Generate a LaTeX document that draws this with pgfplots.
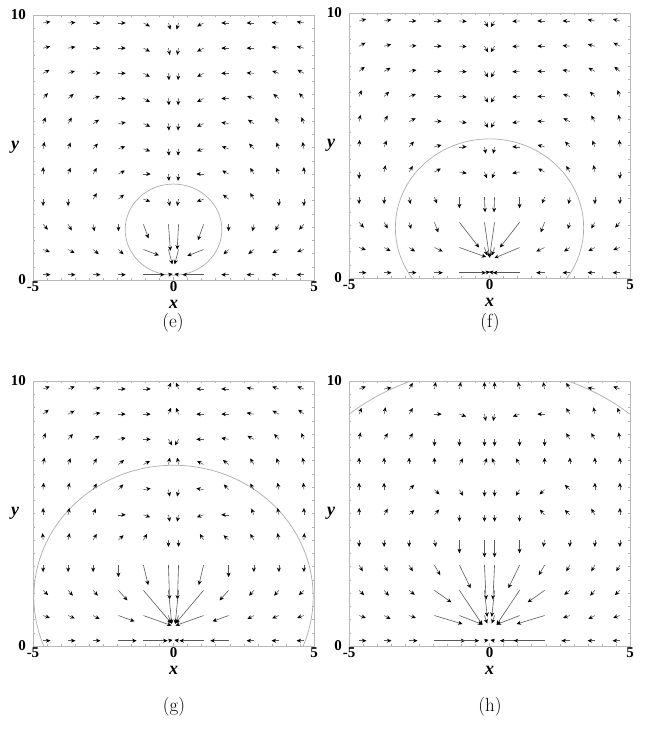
\documentclass[border=0pt]{standalone}
\usepackage{pgfplots}
\pgfplotsset{compat=1.18}
\usepackage{pgfplotstable}
\usepackage{fontspec}
\newfontfamily\tnr{Liberation Serif}
\usetikzlibrary{arrows.meta}

% velocity fields: grid point (x,y) and vector (u,v)
\pgfplotstableread{
x y u v
-4.64 9.7 0.26 0.05
-3.75 9.7 0.26 0.02
-2.86 9.7 0.26 0
-1.96 9.7 0.26 0
-1.07 9.7 0.23 -0.13
-0.18 9.7 0.07 -0.25
0.18 9.7 -0.07 -0.25
1.07 9.7 -0.23 -0.13
1.96 9.7 -0.26 0
2.86 9.7 -0.26 0
3.75 9.7 -0.26 0.02
4.64 9.7 -0.26 0.05
-4.64 8.75 0.25 0.07
-3.75 8.75 0.26 0.05
-2.86 8.75 0.26 0
-1.96 8.75 0.26 0
-1.07 8.75 0.23 -0.13
-0.18 8.75 0.05 -0.26
0.18 8.75 -0.05 -0.26
1.07 8.75 -0.23 -0.13
1.96 8.75 -0.26 0
2.86 8.75 -0.26 0
3.75 8.75 -0.26 0.05
4.64 8.75 -0.25 0.07
-4.64 7.8 0.23 0.13
-3.75 7.8 0.24 0.09
-2.86 7.8 0.26 0.02
-1.96 7.8 0.26 0
-1.07 7.8 0.23 -0.13
-0.18 7.8 0.02 -0.26
0.18 7.8 -0.02 -0.26
1.07 7.8 -0.23 -0.13
1.96 7.8 -0.26 0
2.86 7.8 -0.26 0.02
3.75 7.8 -0.24 0.09
4.64 7.8 -0.23 0.13
-4.64 6.85 0.17 0.20
-3.75 6.85 0.20 0.17
-2.86 6.85 0.24 0.09
-1.96 6.85 0.26 0
-1.07 6.85 0.23 -0.13
-0.18 6.85 0.02 -0.26
0.18 6.85 -0.02 -0.26
1.07 6.85 -0.23 -0.13
1.96 6.85 -0.26 0
2.86 6.85 -0.24 0.09
3.75 6.85 -0.20 0.17
4.64 6.85 -0.17 0.20
-4.64 5.9 0.09 0.24
-3.75 5.9 0.13 0.23
-2.86 5.9 0.21 0.15
-1.96 5.9 0.26 0.05
-1.07 5.9 0.24 -0.11
-0.18 5.9 0.02 -0.26
0.18 5.9 -0.02 -0.26
1.07 5.9 -0.24 -0.11
1.96 5.9 -0.26 0.05
2.86 5.9 -0.21 0.15
3.75 5.9 -0.13 0.23
4.64 5.9 -0.09 0.24
-4.64 4.95 0.05 0.26
-3.75 4.95 0.09 0.24
-2.86 4.95 0.17 0.20
-1.96 4.95 0.24 0.09
-1.07 4.95 0.24 -0.09
-0.18 4.95 0.02 -0.26
0.18 4.95 -0.02 -0.26
1.07 4.95 -0.24 -0.09
1.96 4.95 -0.24 0.09
2.86 4.95 -0.17 0.20
3.75 4.95 -0.09 0.24
4.64 4.95 -0.05 0.26
-4.64 4.0 0 0.26
-3.75 4.0 0.09 0.24
-2.86 4.0 0.13 0.23
-1.96 4.0 0.23 0.13
-1.07 4.0 0.26 0
-0.18 4.0 0.02 -0.26
0.18 4.0 -0.02 -0.26
1.07 4.0 -0.26 0
1.96 4.0 -0.23 0.13
2.86 4.0 -0.13 0.23
3.75 4.0 -0.09 0.24
4.64 4.0 0 0.26
-4.64 3.05 0 -0.26
-3.75 3.05 0 -0.26
-2.86 3.05 0.13 0.23
-1.96 3.05 0.20 0.17
-1.07 3.05 0.24 -0.09
-0.18 3.05 0.05 -0.26
0.18 3.05 -0.05 -0.26
1.07 3.05 -0.24 -0.09
1.96 3.05 -0.20 0.17
2.86 3.05 -0.13 0.23
3.75 3.05 0 -0.26
4.64 3.05 0 -0.26
-4.64 2.1 0.17 -0.20
-3.75 2.1 0.13 -0.23
-2.86 2.1 0.05 -0.26
-1.96 2.1 0 -0.26
-1.07 2.1 0.18 -0.53
-0.18 2.1 0.07 -1.0
0.18 2.1 -0.05 -0.95
1.07 2.1 -0.2 -0.6
1.96 2.1 0 -0.26
2.86 2.1 -0.05 -0.26
3.75 2.1 -0.13 -0.23
4.64 2.1 -0.17 -0.20
-4.64 1.15 0.24 -0.09
-3.75 1.15 0.23 -0.13
-2.86 1.15 0.20 -0.17
-1.96 1.15 0.18 -0.18
-1.07 1.15 0.55 -0.22
-0.18 1.15 0.14 -0.56
0.18 1.15 -0.14 -0.56
1.07 1.15 -0.58 -0.24
1.96 1.15 -0.18 -0.18
2.86 1.15 -0.20 -0.17
3.75 1.15 -0.23 -0.13
4.64 1.15 -0.24 -0.09
-4.64 0.2 0.26 0
-3.75 0.2 0.26 0
-2.86 0.2 0.26 0
-1.96 0.2 0.26 0
-1.07 0.2 0.75 0
-0.18 0.2 0.15 0.03
0.18 0.2 -0.15 0.03
1.07 0.2 -0.75 0
1.96 0.2 -0.26 0
2.86 0.2 -0.26 0
3.75 0.2 -0.26 0
4.64 0.2 -0.26 0
}\fieldE

\pgfplotstableread{
x y u v
-4.64 9.7 0.25 0.07
-3.75 9.7 0.26 0.05
-2.86 9.7 0.26 0
-1.96 9.7 0.26 0
-1.07 9.7 0.26 -0.02
-0.18 9.7 0.13 -0.23
0.18 9.7 -0.13 -0.23
1.07 9.7 -0.26 -0.02
1.96 9.7 -0.26 0
2.86 9.7 -0.26 0
3.75 9.7 -0.26 0.05
4.64 9.7 -0.25 0.07
-4.64 8.75 0.23 0.13
-3.75 8.75 0.25 0.07
-2.86 8.75 0.26 0.02
-1.96 8.75 0.26 0
-1.07 8.75 0.26 -0.02
-0.18 8.75 0.13 -0.23
0.18 8.75 -0.13 -0.23
1.07 8.75 -0.26 -0.02
1.96 8.75 -0.26 0
2.86 8.75 -0.26 0.02
3.75 8.75 -0.25 0.07
4.64 8.75 -0.23 0.13
-4.64 7.8 0.20 0.17
-3.75 7.8 0.23 0.13
-2.86 7.8 0.26 0.05
-1.96 7.8 0.26 0
-1.07 7.8 0.26 -0.02
-0.18 7.8 0.13 -0.23
0.18 7.8 -0.13 -0.23
1.07 7.8 -0.26 -0.02
1.96 7.8 -0.26 0
2.86 7.8 -0.26 0.05
3.75 7.8 -0.23 0.13
4.64 7.8 -0.20 0.17
-4.64 6.85 0.09 0.24
-3.75 6.85 0.18 0.18
-2.86 6.85 0.24 0.09
-1.96 6.85 0.26 0
-1.07 6.85 0.26 -0.02
-0.18 6.85 0.13 -0.23
0.18 6.85 -0.13 -0.23
1.07 6.85 -0.26 -0.02
1.96 6.85 -0.26 0
2.86 6.85 -0.24 0.09
3.75 6.85 -0.18 0.18
4.64 6.85 -0.09 0.24
-4.64 5.9 0.05 0.26
-3.75 5.9 0.13 0.23
-2.86 5.9 0.23 0.13
-1.96 5.9 0.26 0.02
-1.07 5.9 0.26 -0.05
-0.18 5.9 0.13 -0.23
0.18 5.9 -0.13 -0.23
1.07 5.9 -0.26 -0.05
1.96 5.9 -0.26 0.02
2.86 5.9 -0.23 0.13
3.75 5.9 -0.13 0.23
4.64 5.9 -0.05 0.26
-4.64 4.95 0.02 0.26
-3.75 4.95 0.09 0.24
-2.86 4.95 0.17 0.20
-1.96 4.95 0.25 0.07
-1.07 4.95 0.26 0
-0.18 4.95 0.05 -0.26
0.18 4.95 -0.05 -0.26
1.07 4.95 -0.26 0
1.96 4.95 -0.25 0.07
2.86 4.95 -0.17 0.20
3.75 4.95 -0.09 0.24
4.64 4.95 -0.02 0.26
-4.64 4.0 0 -0.26
-3.75 4.0 0.05 0.26
-2.86 4.0 0.13 0.23
-1.96 4.0 0.23 0.13
-1.07 4.0 0.26 -0.05
-0.18 4.0 0.09 -0.24
0.18 4.0 -0.09 -0.24
1.07 4.0 -0.26 -0.05
1.96 4.0 -0.23 0.13
2.86 4.0 -0.13 0.23
3.75 4.0 -0.05 0.26
4.64 4.0 0 -0.26
-4.64 3.05 0 -0.26
-3.75 3.05 0 -0.26
-2.86 3.05 0.05 -0.26
-1.96 3.05 0.09 -0.24
-1.07 3.05 0 -0.42
-0.18 3.05 0.02 -0.57
0.18 3.05 -0.02 -0.57
1.07 3.05 0 -0.42
1.96 3.05 -0.09 -0.24
2.86 3.05 -0.05 -0.26
3.75 3.05 0 -0.26
4.64 3.05 0 -0.26
-4.64 2.1 0.17 -0.20
-3.75 2.1 0.13 -0.23
-2.86 2.1 0.07 -0.25
-1.96 2.1 0.14 -0.38
-1.07 2.1 0.7 -0.95
-0.18 2.1 0.18 -1.33
0.18 2.1 -0.18 -1.33
1.07 2.1 -0.7 -0.95
1.96 2.1 -0.14 -0.38
2.86 2.1 -0.07 -0.25
3.75 2.1 -0.13 -0.23
4.64 2.1 -0.17 -0.20
-4.64 1.15 0.24 -0.09
-3.75 1.15 0.23 -0.13
-2.86 1.15 0.21 -0.15
-1.96 1.15 0.3 -0.15
-1.07 1.15 0.95 -0.36
-0.18 1.15 0.1 -0.3
0.18 1.15 -0.1 -0.3
1.07 1.15 -0.9 -0.4
1.96 1.15 -0.3 -0.15
2.86 1.15 -0.21 -0.15
3.75 1.15 -0.23 -0.13
4.64 1.15 -0.24 -0.09
-4.64 0.2 0.26 0
-3.75 0.2 0.26 0
-2.86 0.2 0.26 0
-1.96 0.2 0.3 0
-1.07 0.2 0.95 0
-0.18 0.2 0.2 0.03
0.18 0.2 -0.2 0.03
1.07 0.2 -0.95 0
1.96 0.2 -0.3 0
2.86 0.2 -0.26 0
3.75 0.2 -0.26 0
4.64 0.2 -0.26 0
}\fieldF

\pgfplotstableread{
x y u v
-4.64 9.7 0.24 0.09
-3.75 9.7 0.24 0.09
-2.86 9.7 0.26 0.05
-1.96 9.7 0.26 0
-1.07 9.7 0.26 0
-0.18 9.7 0.09 0.24
0.18 9.7 -0.09 0.24
1.07 9.7 -0.26 0
1.96 9.7 -0.26 0
2.86 9.7 -0.26 0.05
3.75 9.7 -0.24 0.09
4.64 9.7 -0.24 0.09
-4.64 8.75 0.20 0.17
-3.75 8.75 0.23 0.13
-2.86 8.75 0.26 0.05
-1.96 8.75 0.26 0
-1.07 8.75 0.26 0
-0.18 8.75 0.09 0.24
0.18 8.75 -0.09 0.24
1.07 8.75 -0.26 0
1.96 8.75 -0.26 0
2.86 8.75 -0.26 0.05
3.75 8.75 -0.23 0.13
4.64 8.75 -0.20 0.17
-4.64 7.8 0.09 0.24
-3.75 7.8 0.17 0.20
-2.86 7.8 0.23 0.13
-1.96 7.8 0.26 0.05
-1.07 7.8 0.26 0
-0.18 7.8 0.13 -0.23
0.18 7.8 -0.13 -0.23
1.07 7.8 -0.26 0
1.96 7.8 -0.26 0.05
2.86 7.8 -0.23 0.13
3.75 7.8 -0.17 0.20
4.64 7.8 -0.09 0.24
-4.64 6.85 0.05 0.26
-3.75 6.85 0.09 0.24
-2.86 6.85 0.13 0.23
-1.96 6.85 0.20 0.17
-1.07 6.85 0.23 0.13
-0.18 6.85 0.05 0.26
0.18 6.85 -0.05 0.26
1.07 6.85 -0.23 0.13
1.96 6.85 -0.20 0.17
2.86 6.85 -0.13 0.23
3.75 6.85 -0.09 0.24
4.64 6.85 -0.05 0.26
-4.64 5.9 0.02 0.26
-3.75 5.9 0.05 0.26
-2.86 5.9 0.13 0.23
-1.96 5.9 0.17 0.20
-1.07 5.9 0.26 0.05
-0.18 5.9 0.05 -0.26
0.18 5.9 -0.05 -0.26
1.07 5.9 -0.26 0.05
1.96 5.9 -0.17 0.20
2.86 5.9 -0.13 0.23
3.75 5.9 -0.05 0.26
4.64 5.9 -0.02 0.26
-4.64 4.95 0 0.26
-3.75 4.95 0.05 0.26
-2.86 4.95 0.09 0.24
-1.96 4.95 0.26 0
-1.07 4.95 0.24 -0.09
-0.18 4.95 0.05 -0.26
0.18 4.95 -0.05 -0.26
1.07 4.95 -0.24 -0.09
1.96 4.95 -0.26 0
2.86 4.95 -0.09 0.24
3.75 4.95 -0.05 0.26
4.64 4.95 0 0.26
-4.64 4.0 -0.02 0.26
-3.75 4.0 0.05 0.26
-2.86 4.0 0.13 0.23
-1.96 4.0 0.18 0.18
-1.07 4.0 0.13 0.23
-0.18 4.0 0 -0.26
0.18 4.0 0 -0.26
1.07 4.0 -0.13 0.23
1.96 4.0 -0.18 0.18
2.86 4.0 -0.13 0.23
3.75 4.0 -0.05 0.26
4.64 4.0 0.02 0.26
-4.64 3.05 0 -0.26
-3.75 3.05 0 -0.26
-2.86 3.05 0 -0.26
-1.96 3.05 0 -0.45
-1.07 3.05 0.17 -0.75
-0.18 3.05 0.04 -1.3
0.18 3.05 -0.04 -1.3
1.07 3.05 -0.17 -0.75
1.96 3.05 0 -0.45
2.86 3.05 0 -0.26
3.75 3.05 0 -0.26
4.64 3.05 0 -0.26
-4.64 2.1 0.18 -0.18
-3.75 2.1 0.17 -0.20
-2.86 2.1 0.17 -0.20
-1.96 2.1 0.32 -0.38
-1.07 2.1 1.0 -1.25
-0.18 2.1 0.12 -1.27
0.18 2.1 -0.12 -1.27
1.07 2.1 -1.0 -1.25
1.96 2.1 -0.32 -0.38
2.86 2.1 -0.17 -0.20
3.75 2.1 -0.17 -0.20
4.64 2.1 -0.18 -0.18
-4.64 1.15 0.24 -0.09
-3.75 1.15 0.24 -0.11
-2.86 1.15 0.23 -0.13
-1.96 1.15 0.57 -0.22
-1.07 1.15 1.0 -0.38
-0.18 1.15 0.1 -0.3
0.18 1.15 -0.1 -0.3
1.07 1.15 -1.0 -0.38
1.96 1.15 -0.57 -0.22
2.86 1.15 -0.23 -0.13
3.75 1.15 -0.24 -0.11
4.64 1.15 -0.24 -0.09
-4.64 0.2 0.26 0
-3.75 0.2 0.26 0
-2.86 0.2 0.26 0
-1.96 0.2 0.65 0
-1.07 0.2 0.86 0
-0.18 0.2 0.15 0.03
0.18 0.2 -0.15 0.03
1.07 0.2 -0.86 0
1.96 0.2 -0.65 0
2.86 0.2 -0.26 0
3.75 0.2 -0.26 0
4.64 0.2 -0.26 0
}\fieldG

\pgfplotstableread{
x y u v
-4.64 9.7 0.24 0.09
-3.75 9.7 0.26 0.05
-2.86 9.7 0.13 0.23
-1.96 9.7 0.05 0.26
-1.07 9.7 0.05 0.26
-0.18 9.7 0 0.26
0.18 9.7 0 0.26
1.07 9.7 -0.05 0.26
1.96 9.7 -0.05 0.26
2.86 9.7 -0.13 0.23
3.75 9.7 -0.26 0.05
4.64 9.7 -0.24 0.09
-4.64 8.75 0.09 0.24
-3.75 8.75 0.05 0.26
-2.86 8.75 0.13 0.23
-1.96 8.75 0.26 0
-1.07 8.75 0.24 -0.09
-0.18 8.75 0.05 -0.26
0.18 8.75 -0.05 -0.26
1.07 8.75 -0.24 -0.09
1.96 8.75 -0.26 0
2.86 8.75 -0.13 0.23
3.75 8.75 -0.05 0.26
4.64 8.75 -0.09 0.24
-4.64 7.8 0.05 0.26
-3.75 7.8 0.13 0.23
-2.86 7.8 0.13 0.23
-1.96 7.8 0 -0.26
-1.07 7.8 0 -0.26
-0.18 7.8 0 -0.26
0.18 7.8 0 -0.26
1.07 7.8 0 -0.26
1.96 7.8 0 -0.26
2.86 7.8 -0.13 0.23
3.75 7.8 -0.13 0.23
4.64 7.8 -0.05 0.26
-4.64 6.85 0 0.26
-3.75 6.85 0 0.26
-2.86 6.85 0 0.26
-1.96 6.85 0 0.26
-1.07 6.85 0.13 0.23
-0.18 6.85 0.09 0.24
0.18 6.85 -0.09 0.24
1.07 6.85 -0.13 0.23
1.96 6.85 0 0.26
2.86 6.85 0 0.26
3.75 6.85 0 0.26
4.64 6.85 0 0.26
-4.64 5.9 0 0.26
-3.75 5.9 0 0.26
-2.86 5.9 0.18 0.18
-1.96 5.9 0.18 -0.18
-1.07 5.9 0.13 -0.23
-0.18 5.9 0 -0.26
0.18 5.9 0 -0.26
1.07 5.9 -0.13 -0.23
1.96 5.9 -0.18 -0.18
2.86 5.9 -0.18 0.18
3.75 5.9 0 0.26
4.64 5.9 0 0.26
-4.64 4.95 0 0.26
-3.75 4.95 0.13 0.23
-2.86 4.95 0.18 0.18
-1.96 4.95 0.17 0.20
-1.07 4.95 0 -0.26
-0.18 4.95 0 -0.26
0.18 4.95 0 -0.26
1.07 4.95 0 -0.26
1.96 4.95 -0.17 0.20
2.86 4.95 -0.18 0.18
3.75 4.95 -0.13 0.23
4.64 4.95 0 0.26
-4.64 4.0 0 -0.26
-3.75 4.0 0 -0.26
-2.86 4.0 0 -0.26
-1.96 4.0 0.05 -0.26
-1.07 4.0 0 -0.5
-0.18 4.0 0 -0.65
0.18 4.0 0 -0.65
1.07 4.0 0 -0.5
1.96 4.0 -0.05 -0.26
2.86 4.0 0 -0.26
3.75 4.0 0 -0.26
4.64 4.0 0 -0.26
-4.64 3.05 0.13 -0.23
-3.75 3.05 0.13 -0.23
-2.86 3.05 0.13 -0.23
-1.96 3.05 0.21 -0.38
-1.07 3.05 0.4 -0.87
-0.18 3.05 0.06 -1.3
0.18 3.05 -0.06 -1.3
1.07 3.05 -0.4 -0.87
1.96 3.05 -0.21 -0.38
2.86 3.05 -0.13 -0.23
3.75 3.05 -0.13 -0.23
4.64 3.05 -0.13 -0.23
-4.64 2.1 0.18 -0.18
-3.75 2.1 0.17 -0.20
-2.86 2.1 0.20 -0.17
-1.96 2.1 0.6 -0.45
-1.07 2.1 0.82 -1.3
-0.18 2.1 0.1 -1.0
0.18 2.1 -0.1 -1.0
1.07 2.1 -0.82 -1.3
1.96 2.1 -0.6 -0.45
2.86 2.1 -0.20 -0.17
3.75 2.1 -0.17 -0.20
4.64 2.1 -0.18 -0.18
-4.64 1.15 0.24 -0.09
-3.75 1.15 0.23 -0.13
-2.86 1.15 0.24 -0.09
-1.96 1.15 1.0 -0.32
-1.07 1.15 0.82 -0.34
-0.18 1.15 0.1 -0.3
0.18 1.15 -0.1 -0.3
1.07 1.15 -0.82 -0.34
1.96 1.15 -1.0 -0.32
2.86 1.15 -0.24 -0.09
3.75 1.15 -0.23 -0.13
4.64 1.15 -0.24 -0.09
-4.64 0.2 0.26 0
-3.75 0.2 0.26 0
-2.86 0.2 0.3 0
-1.96 0.2 1.1 0
-1.07 0.2 0.7 0
-0.18 0.2 0.15 0.03
0.18 0.2 -0.15 0.03
1.07 0.2 -0.7 0
1.96 0.2 -1.1 0
2.86 0.2 -0.3 0
3.75 0.2 -0.26 0
4.64 0.2 -0.26 0
}\fieldH

\tikzset{bubble/.style={gray!65, line width=0.7pt}}

\pgfplotsset{
  flowpanel/.style={
    scale only axis, width=281pt, height=265pt,
    xmin=-5, xmax=5, ymin=0, ymax=10,
    xtick={-5,0,5}, ytick={0,10},
    xticklabel={\pgfmathprintnumber[assume math mode=true]{\tick}},
    yticklabel={\pgfmathprintnumber[assume math mode=true]{\tick}},
    minor x tick num=9, minor y tick num=19,
    tick align=inside, major tick length=3pt, minor tick length=2pt,
    tick style={gray!60, line width=0.4pt},
    axis line style={gray!55, line width=0.9pt},
    ticklabel style={font=\tnr\bfseries\fontsize{15}{15}\selectfont},
    xticklabel style={inner sep=1pt},
    yticklabel style={inner sep=0pt, xshift=-7pt},
    xlabel={x}, ylabel={y},
    every axis x label/.style={at={(axis description cs:0.5,0)}, anchor=north,
      yshift=-20pt, inner sep=0pt,
      font=\tnr\bfseries\itshape\fontsize{18}{18}\selectfont},
    every axis y label/.style={at={(axis description cs:0,0.5)}, anchor=center,
      xshift=-18pt, font=\tnr\bfseries\itshape\fontsize{18}{18}\selectfont},
  },
  field/.style={quiver={u=\thisrow{u}, v=\thisrow{v}},
    -{Stealth[length=4.5pt,width=4pt,black]}, black!65, line width=0.6pt},
}

\begin{document}
\begin{tikzpicture}
\path[use as bounding box] (0pt,0pt) rectangle (657pt,-730pt);

\begin{axis}[flowpanel, at={(33pt,-280pt)}, anchor=south west]
  \draw[bubble] (axis cs:0,1.9) ellipse [x radius=1.72, y radius=1.72];
  \addplot[field] table {\fieldE};
\end{axis}

\begin{axis}[flowpanel, at={(349pt,-278pt)}, anchor=south west]
  \draw[bubble] (axis cs:0,1.9) ellipse [x radius=3.35, y radius=3.35];
  \addplot[field] table {\fieldF};
\end{axis}

\begin{axis}[flowpanel, at={(33pt,-646pt)}, anchor=south west]
  \draw[bubble] (axis cs:0,1.85) ellipse [x radius=4.97, y radius=4.97];
  \addplot[field] table {\fieldG};
\end{axis}

\begin{axis}[flowpanel, at={(349pt,-646pt)}, anchor=south west]
  \draw[bubble] (axis cs:0,2.5) ellipse [x radius=8, y radius=8];
  \addplot[field] table {\fieldH};
\end{axis}

\node[font=\fontsize{19}{19}\selectfont] at (173pt,-323pt) {(e)};
\node[font=\fontsize{19}{19}\selectfont] at (490pt,-323pt) {(f)};
\node[font=\fontsize{19}{19}\selectfont] at (174pt,-707pt) {(g)};
\node[font=\fontsize{19}{19}\selectfont] at (490pt,-707pt) {(h)};
\end{tikzpicture}
\end{document}
